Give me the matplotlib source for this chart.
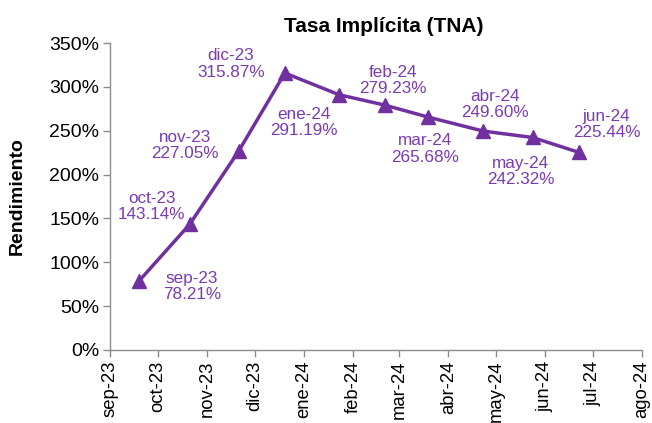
import datetime as dt

import matplotlib
matplotlib.use("Agg")
import matplotlib.dates as mdates
import matplotlib.pyplot as plt
from matplotlib.ticker import FuncFormatter, MultipleLocator

plt.rcParams["font.family"] = ["Liberation Sans", "DejaVu Sans"]

# maturity dates and implied rates (TNA, %)
dates = [
    dt.date(2023, 9, 19), dt.date(2023, 10, 21), dt.date(2023, 11, 21),
    dt.date(2023, 12, 20), dt.date(2024, 1, 23), dt.date(2024, 2, 21),
    dt.date(2024, 3, 19), dt.date(2024, 4, 23), dt.date(2024, 5, 24),
    dt.date(2024, 6, 22),
]
rates = [78.21, 143.14, 227.05, 315.87, 291.19, 279.23, 265.68, 249.60, 242.32, 225.44]
point_names = ["sep-23", "oct-23", "nov-23", "dic-23", "ene-24", "feb-24",
               "mar-24", "abr-24", "may-24", "jun-24"]

tick_dates = [dt.date(2023 + (8 + i) // 12, (8 + i) % 12 + 1, 1) for i in range(12)]
tick_labels = ["sep-23", "oct-23", "nov-23", "dic-23", "ene-24", "feb-24",
               "mar-24", "abr-24", "may-24", "jun-24", "jul-24", "ago-24"]

# label offsets in pixels (dx, dy), picked to match the original layout
label_offsets = [(53, -5), (-38, 18), (-54, 5), (-54, 9), (-35, -28),
                 (8, 25), (-3, -32), (12, 27), (-12, -34), (28, 28)]

LINE_COLOR = "#7030A0"
TEXT_COLOR = "#7A3AB4"
AXIS_COLOR = "#8C8C8C"

fig = plt.figure(figsize=(6.52, 4.23), dpi=100)
ax = fig.add_axes([0.169, 0.173, 0.816, 0.725])

x = mdates.date2num(dates)
ax.plot(x, rates, color=LINE_COLOR, linewidth=2.5, marker="^", markersize=9.5,
        markeredgecolor=LINE_COLOR, markerfacecolor=LINE_COLOR)

for xi, yi, name, (dx, dy) in zip(x, rates, point_names, label_offsets):
    ax.annotate(f"{name}\n{yi:.2f}%", (xi, yi), xytext=(dx, dy),
                textcoords="offset pixels", ha="center", va="center",
                fontsize=12.3, color=TEXT_COLOR, linespacing=1.1)

ax.set_xlim(mdates.date2num(tick_dates[0]), mdates.date2num(tick_dates[-1]))
ax.set_xticks(mdates.date2num(tick_dates))
ax.set_xticklabels(tick_labels, rotation=90)
ax.set_ylim(0, 350)
ax.yaxis.set_major_locator(MultipleLocator(50))
ax.yaxis.set_major_formatter(FuncFormatter(lambda v, _: f"{v:.0f}%"))

for side in ("top", "right"):
    ax.spines[side].set_visible(False)
for side in ("left", "bottom"):
    ax.spines[side].set_color(AXIS_COLOR)
    ax.spines[side].set_linewidth(1.0)
ax.tick_params(axis="both", colors=AXIS_COLOR, labelcolor="black", labelsize=14,
               length=5, width=1.0)
ax.tick_params(axis="y", pad=3)
ax.tick_params(axis="x", pad=3, labelsize=13.3)

ax.set_ylabel("Rendimiento", fontsize=14, fontweight="bold")
ax.yaxis.set_label_coords(-0.158, 0.5)
ax.set_title("Tasa Implícita (TNA)", fontsize=15, fontweight="bold", pad=8, x=0.515)

fig.savefig("out.png", dpi=100)
